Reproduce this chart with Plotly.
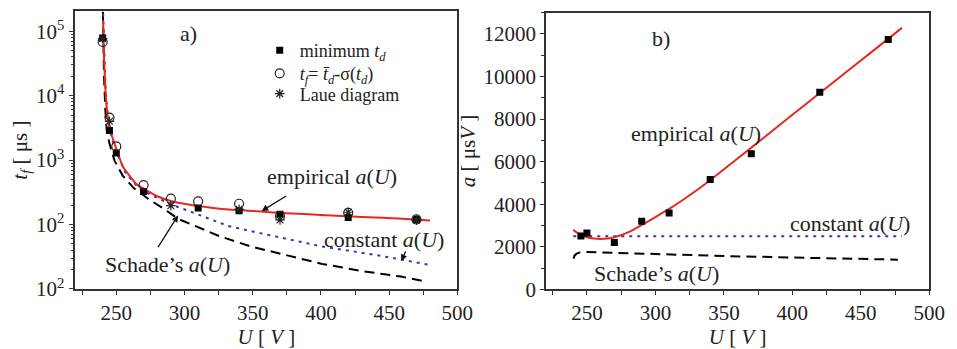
import numpy as np
import plotly.graph_objects as go

# ---------------- data: panel a) ----------------
U_min = [240, 245, 250, 270, 310, 340, 370, 420, 470]
t_min = [78500, 2880, 1290, 325, 181, 163, 145, 129, 120]

U_sig = [240, 245, 250, 270, 290, 310, 340, 370, 420, 470]
t_sig = [68000, 4570, 1630, 410, 252, 228, 210, 135, 152, 120]

U_laue = [240, 245, 290, 340, 370, 420, 470]
t_laue = [77000, 4000, 196, 172, 118, 155, 117]

U_emp_a = [240.3, 241, 241.5, 242, 243, 244, 245, 247, 250, 255, 260, 265, 270, 280, 290,
           300, 310, 330, 350, 375, 400, 430, 460, 480]
t_emp_a = [148000, 40000, 23000, 13000, 6500, 4300, 3400, 2300, 1500, 780, 560, 420, 363,
           275, 232, 210, 194, 172, 162, 150, 141, 131, 123, 116]

U_const_a = [240.2, 241, 242, 243, 244, 245, 247, 250, 257, 265, 270, 284, 290, 304, 320,
             332, 350, 375, 400, 425, 450, 480]
t_const_a = [250000, 60000, 15000, 7000, 4300, 3200, 2100, 1350, 620, 400, 330, 234, 205,
             160, 118, 95, 78, 60, 46, 38, 31, 23.5]

U_schade_a = [240.2, 241, 242, 243, 245, 248.7, 254.7, 263, 274, 283.6, 295.5, 315, 325.6,
              348, 375, 401, 430, 458.6, 474.5]
t_schade_a = [200000, 20000, 6000, 2900, 1800, 980, 575, 365, 245, 183, 122, 82, 66,
              46, 33, 24.5, 19, 15.6, 13.3]

# ---------------- data: panel b) ----------------
U_pts_b = [245.6, 250, 270, 290, 310, 340, 370, 420, 470]
a_pts_b = [2506, 2655, 2205, 3208, 3586, 5161, 6376, 9256, 11730]

U_emp_b = [240, 245, 250, 255, 260, 265, 270, 280, 290, 300, 310, 320, 340, 360, 380, 400,
           420, 440, 460, 480]
a_emp_b = [2800, 2580, 2450, 2390, 2370, 2390, 2450, 2680, 3030, 3400, 3780, 4200, 5130,
           6150, 7170, 8200, 9220, 10240, 11260, 12280]

U_const_b = [240, 480]
a_const_b = [2500, 2500]

U_schade_b = [240.2, 241, 242.5, 245, 250, 270, 300, 350, 400, 450, 477]
a_schade_b = [1450, 1600, 1680, 1740, 1760, 1720, 1660, 1570, 1500, 1440, 1400]

ytick_vals_a = [10, 100, 1000, 10000, 100000]
ytick_text_a = ["10<sup>2</sup>", "10<sup>2</sup>", "10<sup>3</sup>", "10<sup>4</sup>", "10<sup>5</sup>"]
ytick_minor_a = [m * 10 ** d for d in range(1, 6) for m in range(2, 10) if m * 10 ** d < 2.0e5]

# ---------------- styling ----------------
FONT = "Liberation Serif"
RED = "#e8281e"
BLUE = "#3636ae"
W, H = 957, 349

fig = go.Figure()

# invisible carrier trace so the overlaid minor-tick log axis is drawn
fig.add_trace(go.Scatter(x=U_emp_a, y=t_emp_a, mode="lines", xaxis="x", yaxis="y3",
                         line=dict(width=0, color="rgba(0,0,0,0)"), opacity=0,
                         hoverinfo="skip", showlegend=False))

# panel a curves
fig.add_trace(go.Scatter(x=U_schade_a, y=t_schade_a, mode="lines", xaxis="x", yaxis="y",
                         line=dict(color="black", width=2, dash="10px,6px"), showlegend=False))
fig.add_trace(go.Scatter(x=U_const_a, y=t_const_a, mode="lines", xaxis="x", yaxis="y",
                         line=dict(color=BLUE, width=2, dash="3px,5px"), showlegend=False))
fig.add_trace(go.Scatter(x=U_emp_a, y=t_emp_a, mode="lines", xaxis="x", yaxis="y",
                         line=dict(color=RED, width=2, shape="spline", smoothing=0.6),
                         showlegend=False))
# panel a points (each in its own legend box so the rows can be placed)
fig.add_trace(go.Scatter(x=U_min, y=t_min, mode="markers", xaxis="x", yaxis="y",
                         name="minimum <i>t<sub>d</sub></i>", legend="legend",
                         marker=dict(symbol="square", size=7, color="black")))
fig.add_trace(go.Scatter(x=U_sig, y=t_sig, mode="markers", xaxis="x", yaxis="y",
                         name="<i>t<sub>f</sub></i>= <i>t̄<sub>d</sub></i>-σ(<i>t<sub>d</sub></i>)",
                         legend="legend2",
                         marker=dict(symbol="circle-open", size=9, color="#222",
                                     line=dict(width=1.2))))
fig.add_trace(go.Scatter(x=U_laue, y=t_laue, mode="markers", xaxis="x", yaxis="y",
                         name="Laue diagram", legend="legend3",
                         marker=dict(symbol="asterisk-open", size=8, color="#222",
                                     line=dict(width=1.2))))

# panel b
fig.add_trace(go.Scatter(x=U_schade_b, y=a_schade_b, mode="lines", xaxis="x2", yaxis="y2",
                         line=dict(color="black", width=2, dash="10px,6px"), showlegend=False))
fig.add_trace(go.Scatter(x=U_const_b, y=a_const_b, mode="lines", xaxis="x2", yaxis="y2",
                         line=dict(color=BLUE, width=2, dash="3px,5px"), showlegend=False))
fig.add_trace(go.Scatter(x=U_emp_b, y=a_emp_b, mode="lines", xaxis="x2", yaxis="y2",
                         line=dict(color=RED, width=2, shape="spline", smoothing=0.8),
                         showlegend=False))
fig.add_trace(go.Scatter(x=U_pts_b, y=a_pts_b, mode="markers", xaxis="x2", yaxis="y2",
                         marker=dict(symbol="square", size=7, color="black"), showlegend=False))

axis_common = dict(showline=True, linecolor="#333", linewidth=1.5, mirror=True,
                   ticks="outside", ticklen=4, tickwidth=1.2, tickcolor="#333",
                   showgrid=False, zeroline=False,
                   tickfont=dict(family=FONT, size=21, color="#222"))

xa = dict(axis_common, range=[220, 500], dtick=50, tick0=0,
          minor=dict(ticks="outside", dtick=25, tick0=0, ticklen=4, tickcolor="#333"),
          title=dict(text="<i>U</i> [ <i>V</i> ]", font=dict(family=FONT, size=21, color="#222"),
                     standoff=0))

LEG = dict(xanchor="left", yanchor="middle", bgcolor="rgba(0,0,0,0)",
           font=dict(family=FONT, size=18, color="#222"), itemwidth=30)

fig.update_layout(
    width=W, height=H,
    margin=dict(l=0, r=0, t=0, b=0),
    paper_bgcolor="white", plot_bgcolor="white",
    font=dict(family=FONT, color="#222"),
    xaxis=dict(xa, domain=[68.5 / W, 457 / W], anchor="y"),
    xaxis2=dict(xa, domain=[547 / W, 937 / W], anchor="y2"),
    yaxis=dict(axis_common, type="log", range=[1, 5.31], anchor="x",
               domain=[1 - 291 / H, 1 - 3.3 / H],
               tickvals=ytick_vals_a, ticktext=ytick_text_a, ticklen=5,
               title=dict(text="<i>t<sub>f</sub></i> [ μs ]",
                          font=dict(family=FONT, size=21, color="#222"), standoff=3)),
    yaxis3=dict(type="log", range=[1, 5.31], overlaying="y", anchor="x", side="left",
                tickvals=ytick_minor_a, showticklabels=False, ticks="outside", ticklen=3,
                tickwidth=1, tickcolor="#333", showline=False, showgrid=False,
                zeroline=False),
    yaxis2=dict(axis_common, range=[0, 13000], dtick=2000, anchor="x2", tickformat="d",
                domain=[1 - 291.5 / H, 1 - 4.7 / H],
                minor=dict(ticks="outside", dtick=1000, ticklen=3, tickcolor="#333"),
                title=dict(text="<i>a</i> [ μs<i>V</i> ]",
                           font=dict(family=FONT, size=21, color="#222"), standoff=2)),
    legend=dict(LEG, x=256 / W, y=1 - 44 / H),
    legend2=dict(LEG, x=256 / W, y=1 - 68 / H),
    legend3=dict(LEG, x=256 / W, y=1 - 89 / H),
)


def px_text(text, x, y, size=22):
    fig.add_annotation(text=text, xref="paper", yref="paper", x=x / W, y=1 - y / H,
                       xanchor="center", yanchor="middle", showarrow=False,
                       font=dict(family=FONT, size=size, color="#222"))


px_text("a)", 184, 26, 22)
px_text("b)", 664, 32, 22)
px_text("empirical <i>a</i>(<i>U</i>)", 330, 175)
px_text("constant <i>a</i>(<i>U</i>)", 382, 240)
px_text("Schade’s <i>a</i>(<i>U</i>)", 162, 266)
px_text("empirical <i>a</i>(<i>U</i>)", 700, 130)
px_text("constant <i>a</i>(<i>U</i>)", 856, 223)
px_text("Schade’s <i>a</i>(<i>U</i>)", 660, 275)

# arrows (heads in data coordinates; log axis uses log10)
for (hx, hy, ax, ay) in [(356.6, 162, 26, -16), (458.9, 27.2, 5, -11), (295.3, 138, -21, 33)]:
    fig.add_annotation(x=hx, y=np.log10(hy), xref="x", yref="y", ax=ax, ay=ay,
                       showarrow=True, arrowhead=2, arrowsize=1, arrowwidth=1.3,
                       arrowcolor="#111", text="")

fig.write_html("out.html")
